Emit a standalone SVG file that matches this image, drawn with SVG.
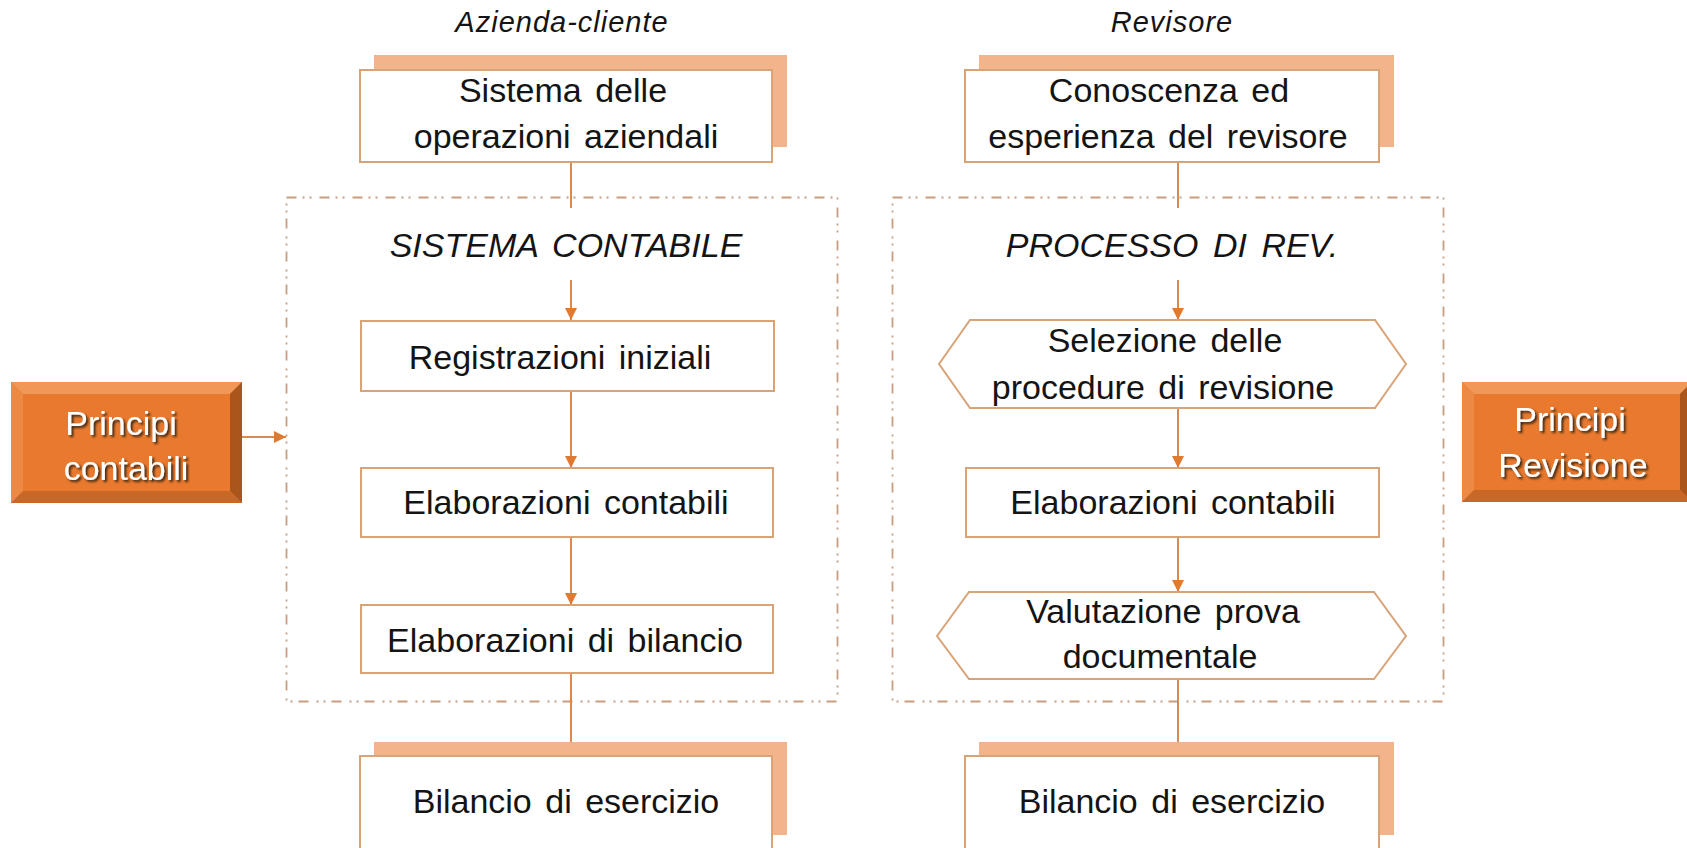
<svg xmlns="http://www.w3.org/2000/svg" width="1687" height="848" viewBox="0 0 1687 848">
  <defs>
    <marker id="ah" markerUnits="userSpaceOnUse" markerWidth="12" markerHeight="12" refX="12" refY="6" orient="auto">
      <path d="M0,0 L12,6 L0,12 z" fill="#E07A30"/>
    </marker>
    <filter id="tsh" x="-10%" y="-20%" width="130%" height="150%">
      <feDropShadow dx="2" dy="2" stdDeviation="1.2" flood-color="#2a1a10" flood-opacity="0.9"/>
    </filter>
    <style>
      .t { font-family: "Liberation Sans", Arial, sans-serif; fill: #141414; }
      .bt { font-size: 34px; text-anchor: middle; word-spacing: 4px; }
      .it { font-style: italic; text-anchor: middle; }
      .hd { font-size: 29px; letter-spacing: 1px; }
      .st { font-size: 34px; word-spacing: 5px; }
      .box { fill: #FFFFFF; stroke: #D9A378; stroke-width: 2; }
      .shadow { fill: #F4B48B; }
      .frame { fill: none; stroke: #C89D80; stroke-width: 1.8; stroke-dasharray: 10 6 2 5 2 8; }
      .conn { fill: none; stroke: #D98A50; stroke-width: 2; }
      .pw { font-family: "Liberation Sans", Arial, sans-serif; font-size: 34px; fill: #FFFFFF; text-anchor: middle; filter: url(#tsh); }
      .bv-face { fill: #E8792E; }
      .bv-top { fill: #F09858; }
      .bv-left { fill: #EC8A45; }
      .bv-right { fill: #A9551C; }
      .bv-bot { fill: #C86726; }
    </style>
  </defs>
  <rect x="0" y="0" width="1687" height="848" fill="#FFFFFF"/>

  <!-- column headings -->
  <g id="head-azienda"><text class="t it hd" x="562" y="32">Azienda-cliente</text></g>
  <g id="head-revisore"><text class="t it hd" x="1172" y="32">Revisore</text></g>

  <!-- frames -->
  <g id="frame-sistema-contabile">
    <rect class="frame" x="286.5" y="197.5" width="551" height="504"/>
    <text class="t it st" x="566" y="257">SISTEMA CONTABILE</text>
  </g>
  <g id="frame-processo-rev">
    <rect class="frame" x="892.5" y="197.5" width="551" height="504"/>
    <text class="t it st" x="1172" y="257">PROCESSO DI REV.</text>
  </g>

  <!-- connectors -->
  <g id="connectors">
    <line class="conn" x1="571" y1="162" x2="571" y2="208"/>
    <line class="conn" x1="571" y1="280" x2="571" y2="320" marker-end="url(#ah)"/>
    <line class="conn" x1="571" y1="391" x2="571" y2="468" marker-end="url(#ah)"/>
    <line class="conn" x1="571" y1="537" x2="571" y2="605" marker-end="url(#ah)"/>
    <line class="conn" x1="571" y1="673" x2="571" y2="756" marker-end="url(#ah)"/>

    <line class="conn" x1="1178" y1="162" x2="1178" y2="208"/>
    <line class="conn" x1="1178" y1="280" x2="1178" y2="320" marker-end="url(#ah)"/>
    <line class="conn" x1="1178" y1="408" x2="1178" y2="468" marker-end="url(#ah)"/>
    <line class="conn" x1="1178" y1="537" x2="1178" y2="592" marker-end="url(#ah)"/>
    <line class="conn" x1="1178" y1="679" x2="1178" y2="756" marker-end="url(#ah)"/>

    <line class="conn" x1="242" y1="437" x2="286" y2="437" marker-end="url(#ah)"/>
  </g>

  <!-- left column -->
  <g id="sistema-operazioni">
    <rect class="shadow" x="374" y="55" width="413" height="92"/>
    <rect class="box" x="360" y="70" width="412" height="92"/>
    <text class="t bt" x="563" y="102">Sistema delle</text>
    <text class="t bt" x="566" y="148">operazioni aziendali</text>
  </g>
  <g id="registrazioni-iniziali">
    <rect class="box" x="361" y="321" width="413" height="70"/>
    <text class="t bt" x="560" y="369">Registrazioni iniziali</text>
  </g>
  <g id="elaborazioni-contabili-l">
    <rect class="box" x="361" y="468" width="412" height="69"/>
    <text class="t bt" x="566" y="514">Elaborazioni contabili</text>
  </g>
  <g id="elaborazioni-bilancio">
    <rect class="box" x="361" y="605" width="412" height="68"/>
    <text class="t bt" x="565" y="652">Elaborazioni di bilancio</text>
  </g>
  <g id="bilancio-l">
    <rect class="shadow" x="374" y="742" width="413" height="93"/>
    <rect class="box" x="360" y="756" width="412" height="100"/>
    <text class="t bt" x="566" y="813">Bilancio di esercizio</text>
  </g>

  <!-- right column -->
  <g id="conoscenza-esperienza">
    <rect class="shadow" x="979" y="55" width="415" height="92"/>
    <rect class="box" x="965" y="70" width="414" height="92"/>
    <text class="t bt" x="1169" y="102">Conoscenza ed</text>
    <text class="t bt" x="1168" y="148">esperienza del revisore</text>
  </g>
  <g id="selezione-procedure">
    <polygon class="box" points="939,364 970,320 1375,320 1406,364 1375,408 970,408"/>
    <text class="t bt" x="1165" y="352">Selezione delle</text>
    <text class="t bt" x="1163" y="399">procedure di revisione</text>
  </g>
  <g id="elaborazioni-contabili-r">
    <rect class="box" x="966" y="468" width="413" height="69"/>
    <text class="t bt" x="1173" y="514">Elaborazioni contabili</text>
  </g>
  <g id="valutazione-prova">
    <polygon class="box" points="937,636 969,592 1374,592 1406,636 1374,679 969,679"/>
    <text class="t bt" x="1163" y="623">Valutazione prova</text>
    <text class="t bt" x="1160" y="668">documentale</text>
  </g>
  <g id="bilancio-r">
    <rect class="shadow" x="979" y="742" width="415" height="93"/>
    <rect class="box" x="965" y="756" width="414" height="100"/>
    <text class="t bt" x="1172" y="813">Bilancio di esercizio</text>
  </g>

  <!-- Principi contabili -->
  <g id="principi-contabili">
    <rect class="bv-face" x="11" y="382" width="231" height="121"/>
    <polygon class="bv-top" points="11,382 242,382 230,394 23,394"/>
    <polygon class="bv-left" points="11,382 23,394 23,491 11,503"/>
    <polygon class="bv-right" points="242,382 242,503 230,491 230,394"/>
    <polygon class="bv-bot" points="11,503 242,503 230,491 23,491"/>
    <text class="pw" x="121" y="435">Principi</text>
    <text class="pw" x="126" y="480">contabili</text>
  </g>

  <!-- Principi Revisione -->
  <g id="principi-revisione">
    <rect class="bv-face" x="1462" y="382" width="230" height="120"/>
    <polygon class="bv-top" points="1462,382 1692,382 1680,394 1474,394"/>
    <polygon class="bv-left" points="1462,382 1474,394 1474,490 1462,502"/>
    <polygon class="bv-right" points="1692,382 1692,502 1680,490 1680,394"/>
    <polygon class="bv-bot" points="1462,502 1692,502 1680,490 1474,490"/>
    <text class="pw" x="1570" y="431">Principi</text>
    <text class="pw" x="1573" y="477">Revisione</text>
  </g>
</svg>
